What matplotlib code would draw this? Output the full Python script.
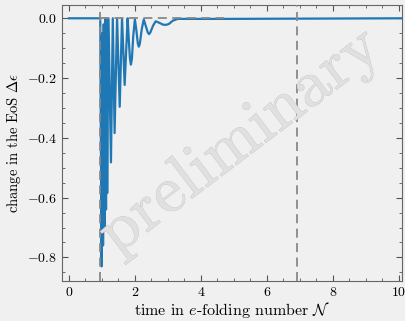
import numpy as np
import matplotlib
matplotlib.use('Agg')
import matplotlib.pyplot as plt
import matplotlib.patheffects as pe
from matplotlib.ticker import MultipleLocator

# ------------------ Data --------------------

# e-folding number N and change in the EoS
efold_N = [0.0, 0.95,
           0.99, 1.01, 1.035, 1.055, 1.08, 1.10, 1.125, 1.14, 1.16, 1.20,
           1.275, 1.33, 1.385, 1.46,
           1.54, 1.61, 1.69, 1.78,
           1.81, 1.85, 1.88, 1.91, 1.95, 2.00,
           2.04, 2.09, 2.12, 2.15, 2.21, 2.27,
           2.32, 2.39, 2.43, 2.47, 2.55, 2.63,
           2.72, 2.85, 2.94, 3.03, 3.15, 3.30,
           4.70, 10.1]
delta_eps = [0.0, 0.0,
             -0.83, -0.05, -0.76, -0.02, -0.70, 0.0, -0.64, 0.0, -0.585, 0.0,
             -0.482, 0.0, -0.384, 0.0,
             -0.296, 0.0, -0.223, 0.0,
             -0.06, -0.135, -0.155, -0.135, -0.06, -0.003,
             -0.035, -0.085, -0.095, -0.085, -0.035, -0.004,
             -0.022, -0.047, -0.053, -0.047, -0.025, -0.010,
             -0.014, -0.021, -0.022, -0.019, -0.008, -0.002,
             -0.002, 0.0]

marker_N = [0.95, 6.93]          # vertical dashed lines
zero_ref_N = [0.95, 4.70]        # gray dashed zero reference

xTicks = [0, 2, 4, 6, 8, 10]
yTicks = [0.0, -0.2, -0.4, -0.6, -0.8]

# ------------------ Style --------------------

bg = '#f0f0f0'
plt.rcParams['font.family'] = 'serif'
plt.rcParams['font.serif'] = ['cmr10']
plt.rcParams['mathtext.fontset'] = 'cm'
plt.rcParams['axes.formatter.use_mathtext'] = True
plt.rcParams['font.size'] = 9.5

fig = plt.figure(figsize=(4.05, 3.21), dpi=100, facecolor=bg)
ax = fig.add_axes([62 / 405, 1 - 280.7 / 321, (402 - 62) / 405, (280.7 - 5) / 321])
ax.set_facecolor(bg)

# ------------------ Plot --------------------

ax.plot(efold_N, delta_eps, color='#1f77b4', lw=1.6, zorder=2)

for xv in marker_N:
    ax.axvline(xv, color='#888888', ls=(0, (5, 3)), lw=1.3, zorder=3)
ax.plot(zero_ref_N, [0.001, 0.001], color='#888888', ls=(0, (5, 3)), lw=1.3, zorder=3)

ax.set_xlim(-0.21, 10.1)
ax.set_ylim(-0.878, 0.0445)
ax.set_xticks(xTicks)
ax.set_yticks(yTicks)
ax.xaxis.set_minor_locator(MultipleLocator(0.5))
ax.yaxis.set_minor_locator(MultipleLocator(0.05))
ax.tick_params(which='both', direction='in', top=True, right=True, color='#555555',
               labelsize=10)
ax.tick_params(which='major', length=4)
ax.tick_params(which='minor', length=2)
for sp in ax.spines.values():
    sp.set_color('#666666')

ax.set_xlabel(r'time in $e$-folding number $\mathcal{N}$', fontsize=11.5, labelpad=1)
ax.set_ylabel(r'change in the EoS $\Delta\epsilon$', fontsize=10.5, labelpad=3)

ax.text(0.525, 0.505, 'preliminary', transform=ax.transAxes, fontsize=48,
        rotation=37, ha='center', va='center', color='#e0e0e0', zorder=4,
        path_effects=[pe.withStroke(linewidth=0.5, foreground='#c2c2c2')])

fig.savefig('out.png', dpi=100, facecolor=bg)
